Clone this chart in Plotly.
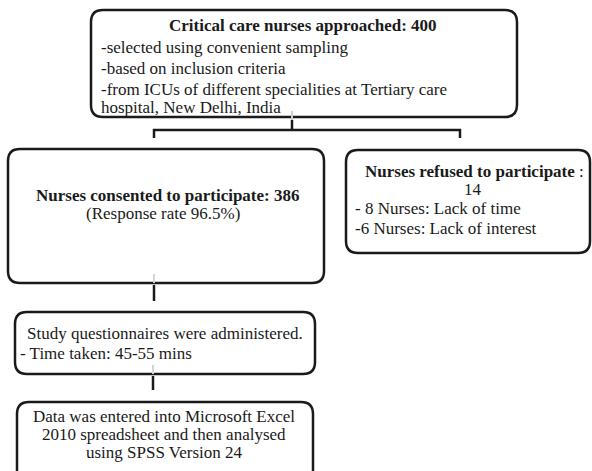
import plotly.graph_objects as go

W, H = 592, 471

# ---- content (text values) ----
approached_title = "Critical care nurses approached: 400"
approached_lines = ["-selected using convenient sampling",
                    "-based on inclusion criteria",
                    "-from ICUs of different specialities at Tertiary care",
                    "hospital, New Delhi, India"]
consented_title = "Nurses consented to participate: 386"
consented_sub = "(Response rate 96.5%)"
refused_title = "Nurses refused to participate"
refused_count = "14"
refused_lines = ["- 8 Nurses: Lack of time", "-6 Nurses: Lack of interest"]
study_lines = ["Study questionnaires were administered.", "- Time taken: 45-55 mins"]
data_lines = ["Data was entered into Microsoft Excel",
              "2010 spreadsheet and then analysed",
              "using SPSS Version 24"]

# ---- layout geometry (pixels) ----
boxes = [  # x0, y0, x1, y1
    (91, 10, 517, 117),
    (8, 149, 324, 283),
    (346, 150, 590, 253),
    (15, 312, 315, 374),
    (17, 402, 313, 500),
]

FONT = "Liberation Serif"
COL = "#1a1a1a"
FS = 17


def rrect(x0, y0, x1, y1, r=12):
    return (f"M {x0+r},{y0} L {x1-r},{y0} Q {x1},{y0} {x1},{y0+r} "
            f"L {x1},{y1-r} Q {x1},{y1} {x1-r},{y1} L {x0+r},{y1} "
            f"Q {x0},{y1} {x0},{y1-r} L {x0},{y0+r} Q {x0},{y0} {x0+r},{y0} Z")


shapes = []
for (x0, y0, x1, y1) in boxes:
    shapes.append(dict(type="path", path=rrect(x0, y0, x1, y1), xref="x", yref="y",
                       line=dict(color=COL, width=2.5), fillcolor="rgba(0,0,0,0)"))


def seg(x0, y0, x1, y1, color=COL, w=2.5):
    shapes.append(dict(type="line", x0=x0, y0=y0, x1=x1, y1=y1, xref="x", yref="y",
                       line=dict(color=color, width=w)))


# connectors
seg(292, 111, 292, 120, "#cfcfcf", 2)
seg(292, 120, 292, 130)
seg(153, 130, 461, 130)
seg(154, 129, 154, 138)
seg(460, 129, 460, 138)
seg(154, 274, 154, 283, "#d5d5d5", 2)
seg(154, 285, 154, 301)
seg(153, 365, 153, 374, "#d5d5d5", 2)
seg(153, 376, 153, 390)

ann = []


def txt(s, x, y, anchor="center", size=FS, bold=False):
    if bold:
        s = f"<b>{s}</b>"
    ann.append(dict(text=s, x=x, y=y, xref="x", yref="y", xanchor=anchor, yanchor="middle",
                    showarrow=False, font=dict(family=FONT, size=size, color=COL)))


txt(approached_title, 303, 25, bold=True)
for s, y in zip(approached_lines, [47, 68, 89, 107]):
    txt(s, 99, y, "left")

txt(consented_title, 167, 195, bold=True)
txt(consented_sub, 163, 213)

txt(f"<b>{refused_title}</b> :", 474, 171)
txt(refused_count, 473, 189)
for s, y in zip(refused_lines, [208, 228]):
    txt(s, 353, y, "left")

txt(study_lines[0], 25, 333, "left")
txt(study_lines[1], 18, 353, "left")

for s, y in zip(data_lines, [416, 434, 452]):
    txt(s, 164, y)

fig = go.Figure()
fig.update_layout(
    width=W, height=H, margin=dict(l=0, r=0, t=0, b=0),
    paper_bgcolor="white", plot_bgcolor="white",
    xaxis=dict(range=[0, W], visible=False, fixedrange=True),
    yaxis=dict(range=[H, 0], visible=False, fixedrange=True),
    shapes=shapes, annotations=ann, showlegend=False,
)
fig.write_html("out.html", config={"displayModeBar": False},
               post_script="document.body.style.margin='0';")
